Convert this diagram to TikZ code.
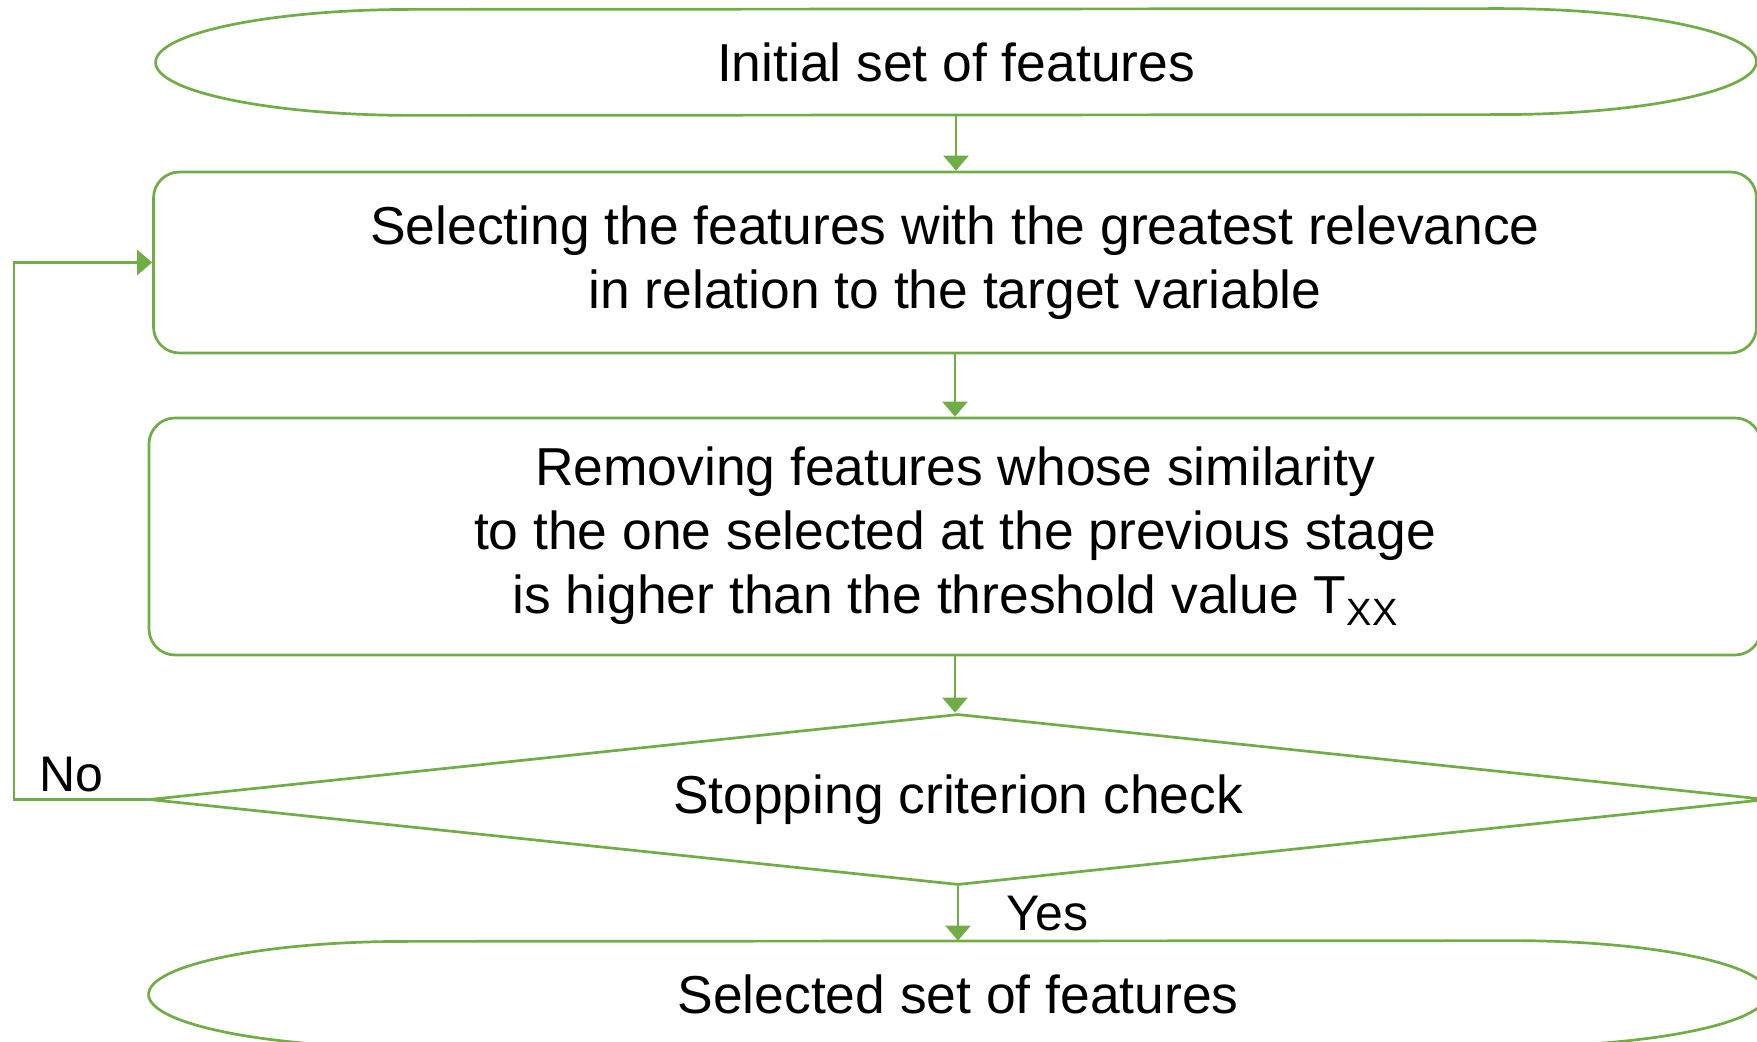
\documentclass[tikz,border=0pt]{standalone}
\usepackage{fontspec}
\setmainfont{Liberation Sans}
\usetikzlibrary{arrows.meta, shapes.geometric, calc}
\definecolor{flowgreen}{HTML}{70AD47}

\tikzset{
	flow/.style={draw=flowgreen, line width=1.35pt},
	arr/.style={flowgreen, line width=1.35pt, -{Triangle[width=12.5pt,length=7.5pt]}},
	txt/.style={font=\fontsize{26.7}{32}\selectfont, align=center, inner sep=0pt},
	lbl/.style={font=\fontsize{25}{30}\selectfont, inner sep=0pt},
	procbox/.style={flow, txt, rounded corners=13pt},
	terminal/.style={txt, minimum width=#1, minimum height=53pt},
	decision/.style={flow, txt, diamond, shape aspect=9.46, minimum width=809pt, minimum height=85.5pt},
}

\newcommand{\termoutline}[1]{%
	\draw[flow] ($(#1.north east)+(-128.5pt,0)$) arc[start angle=90, end angle=-90, x radius=128.5pt, y radius=26.5pt]
		-- ($(#1.south west)+(128.5pt,0)$) arc[start angle=270, end angle=90, x radius=128.5pt, y radius=26.5pt] -- cycle;}

\begin{document}
\begin{tikzpicture}[x=0.5pt, y=0.5pt]
	\useasboundingbox (0,0) rectangle (1757,-1042);
	\clip (0,0) rectangle (1757,-1042);
	\coordinate (A) at (956,-62);
	\coordinate (B) at (955,-262.5);
	\coordinate (C) at (955,-536.5);
	\coordinate (D) at (958,-799.5);
	\coordinate (E) at (958,-994);
	\coordinate (bend) at (14,-799.5);
	\node[terminal=800pt] (init) at (A) {Initial set of features};
	\termoutline{init}
	\node[procbox, minimum width=801.5pt, minimum height=90.5pt] (select) at (B) {Selecting the features with the greatest relevance\\in relation to the target variable};
	\node[procbox, minimum width=806pt, minimum height=118.5pt] (remove) at (C) {Removing features whose similarity\\to the one selected at the previous stage\\is higher than the threshold value T\raisebox{-6pt}{\fontsize{19}{19}\selectfont XX}};
	\node[decision] (check) at (D) {Stopping criterion check};
	\node[terminal=809pt] (result) at (E) {Selected set of features};
	\termoutline{result}
	\draw[arr] (init.south) -- (init.south |- select.north);
	\draw[arr] (select.south) -- (select.south |- remove.north);
	\draw[arr] (remove.south) -- (remove.south |- check.north);
	\draw[arr] (check.south) -- (result.north);
	\draw[arr] (check.west) -- (bend) |- (select.west);
	\path (check.south) -- (result.north) node [lbl, midway, right, xshift=24pt] {Yes};
	\path (bend) node [lbl, anchor=west] at (39,-775) {No};
\end{tikzpicture}
\end{document}
